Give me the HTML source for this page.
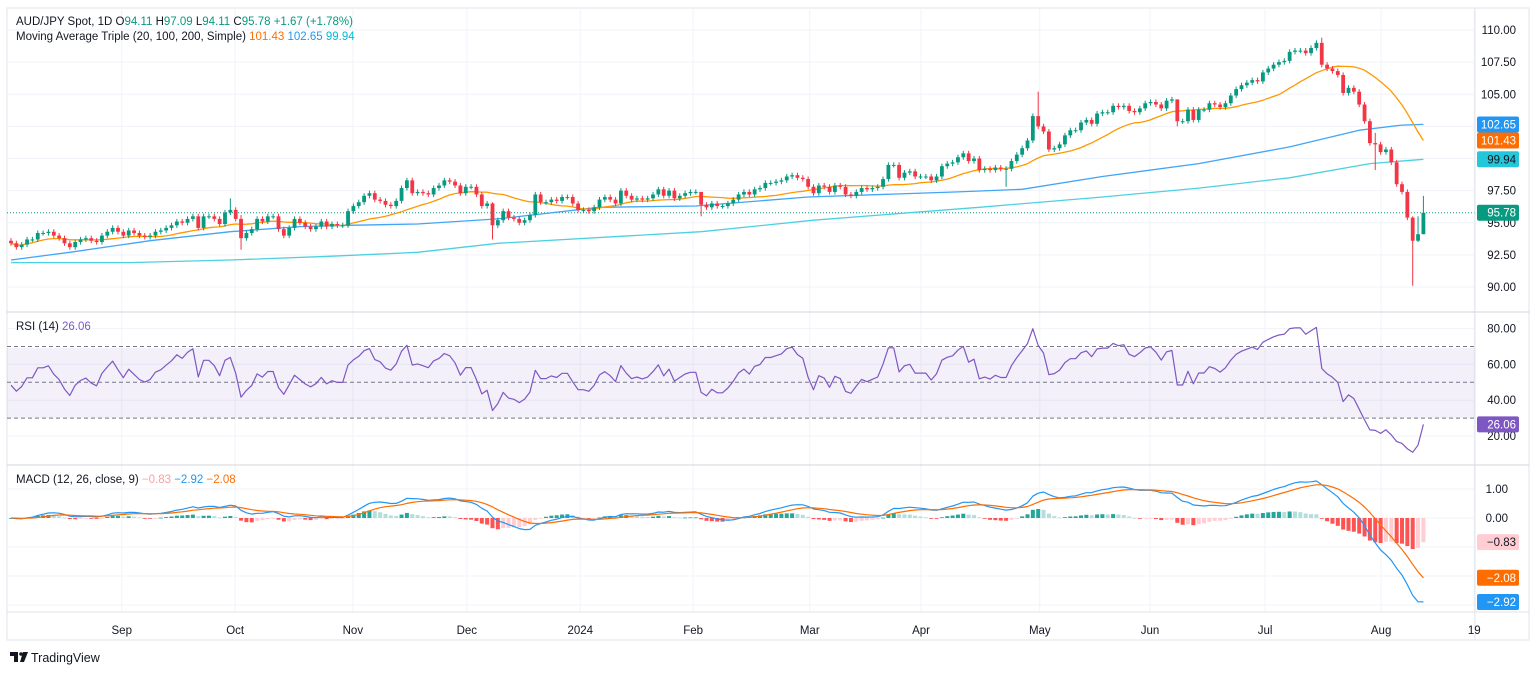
<!DOCTYPE html>
<html><head><meta charset="utf-8"><style>
html,body{margin:0;padding:0;background:#fff;width:1536px;height:673px;overflow:hidden;font-family:"Liberation Sans",sans-serif;}
svg text{font-family:"Liberation Sans",sans-serif;}
</style></head><body>
<svg id="chart" width="1536" height="673" viewBox="0 0 1536 673" xmlns="http://www.w3.org/2000/svg">
<rect x="7" y="8" width="1522" height="632" fill="#fff" stroke="#e0e3eb"/>
<g id="grid"></g>
<rect x="7" y="348" width="1468" height="70" fill="rgba(126,87,194,0.09)"/>
<g id="marks"></g>
<line x1="7" y1="312" x2="1529" y2="312" stroke="#d1d4dc"/>
<line x1="7" y1="465" x2="1529" y2="465" stroke="#d1d4dc"/>
<line x1="7" y1="612" x2="1529" y2="612" stroke="#e0e3eb"/>
<line x1="1475" y1="8" x2="1475" y2="640" stroke="#e0e3eb"/>
<g id="axes"></g>
<g font-size="11.5">
<text x="16" y="25" fill="#131722">AUD/JPY Spot, 1D <tspan fill="#131722"> O</tspan><tspan fill="#089981">94.11 </tspan><tspan> H</tspan><tspan fill="#089981">97.09 </tspan><tspan> L</tspan><tspan fill="#089981">94.11 </tspan><tspan> C</tspan><tspan fill="#089981">95.78 </tspan><tspan fill="#089981"> +1.67 (+1.78%)</tspan></text>
<text x="16" y="40" fill="#131722">Moving Average Triple (20, 100, 200, Simple) <tspan fill="#ff6d00"> 101.43</tspan><tspan fill="#2196f3"> 102.65</tspan><tspan fill="#00bcd4"> 99.94</tspan></text>
</g>
<text x="16" y="330" font-size="11.5" fill="#131722">RSI (14) <tspan fill="#7e57c2"> 26.06</tspan></text>
<text x="16" y="483" font-size="11.5" fill="#131722">MACD (12, 26, close, 9) <tspan fill="#f7a1a1"> −0.83</tspan><tspan fill="#2196f3"> −2.92</tspan><tspan fill="#ff6d00"> −2.08</tspan></text>
<g>
<path d="M10 652h8v10h-4v-6h-4z" fill="#131722"/>
<circle cx="21" cy="654" r="1.8" fill="#131722"/>
<path d="M23 652h5l-4 10h-4z" fill="#131722"/>
<text x="31" y="662" font-size="12.5" fill="#131722">TradingView</text>
</g>
</svg>
<script>
const closes = [
93.4,93.1,93.3,93.7,93.7,94.2,94.2,94.3,94.0,93.8,
93.4,93.1,93.5,93.7,93.8,93.6,93.5,94.0,94.3,94.6,
94.3,94.0,94.4,94.2,94.0,93.9,94.0,94.3,94.4,94.6,
94.8,95.1,95.0,95.3,95.5,94.6,95.5,95.5,95.3,94.9,
95.8,96.0,95.3,93.8,94.2,94.5,95.3,95.1,95.5,95.5,
94.5,94.0,94.6,95.3,95.0,94.7,94.5,94.7,95.1,94.7,
94.9,94.8,94.8,95.9,96.3,96.6,97.1,97.3,96.8,96.7,
96.4,96.3,96.7,97.7,98.3,97.3,97.4,97.3,97.2,97.7,
97.9,98.3,98.2,97.9,97.3,97.8,97.8,97.2,96.3,96.5,
94.8,95.2,
95.9,95.4,95.3,95.0,95.2,95.6,97.2,96.6,96.6,96.8,
96.7,97.0,97.0,96.5,96.0,96.0,95.9,96.2,96.8,97.0,
96.8,96.5,97.5,97.1,96.8,96.9,96.8,96.9,97.2,97.6,
97.1,97.5,96.9,97.1,97.3,97.4,97.4,96.4,96.2,96.5,
96.3,96.3,96.5,96.8,97.2,97.4,97.2,97.6,97.7,98.1,
98.1,98.2,98.3,98.6,98.7,98.5,98.4,97.8,97.3,97.9,
97.8,97.4,97.9,97.8,97.2,97.1,97.4,97.7,97.6,97.7,
97.8,98.4,99.5,99.5,98.5,98.9,99.0,98.6,98.6,98.6,
98.3,98.6,99.4,99.6,99.7,100.1,100.4,99.8,100.0,99.1,
99.2,99.1,99.3,99.2,99.2,99.8,100.3,100.8,101.4,103.3,
102.5,102.1,100.7,100.8,101.1,101.8,102.2,102.2,102.8,103.0,
102.7,103.5,103.6,103.6,104.1,104.0,104.1,103.7,103.6,103.9,
104.3,104.4,104.2,103.9,104.5,104.6,102.9,102.9,103.8,103.0,
103.8,103.8,104.3,104.2,104.0,104.3,104.9,105.4,105.7,105.9,
106.1,106.0,106.7,107.0,107.3,107.5,107.6,108.3,108.4,108.4,
108.2,108.6,109.0,107.3,107.0,106.8,106.5,105.1,105.5,105.2,
104.2,102.9,101.2,101.1,100.5,100.7,99.7,98.0,97.4,95.4,
93.6,94.11,95.78
];
const firstOpen = 93.6;
const wickBars  = [43, 41, 90, 129, 186, 192, 218, 245, 255, 262, 263, 264];
const wickHighs = [95.6, 96.9, 96.6, 96.7, 99.4, 105.2, 104.6, 109.4, 102.0, 95.5, 95.5, 97.09];
const wickLows  = [92.9, 95.6, 93.7, 95.5, 97.8, 102.3, 102.5, 107.1, 99.1, 90.1, 93.5, 94.11];
const ma100Bars = [0, 11, 26, 41, 54, 63, 76, 91, 110, 128, 149, 177, 189, 204, 222, 239, 252, 260, 264];
const ma100Vals = [92.1, 92.7, 93.6, 94.3, 94.7, 94.8, 94.9, 95.3, 96.2, 96.3, 97.0, 97.4, 97.6, 98.6, 99.6, 100.9, 102.2, 102.6, 102.65];
const ma200Bars = [0, 22, 41, 60, 76, 91, 129, 150, 181, 204, 222, 239, 254, 264];
const ma200Vals = [91.9, 91.9, 92.1, 92.4, 92.7, 93.4, 94.3, 95.2, 96.2, 97.0, 97.7, 98.5, 99.6, 99.94];
const monthLabels = ['Sep','Oct','Nov','Dec','2024','Feb','Mar','Apr','May','Jun','Jul','Aug','19'];
const monthBars = [20.7, 41.9, 63.9, 85.2, 106.4, 127.5, 149.3, 170.1, 192.3, 212.9, 234.4, 256.1, 273.5];
const priceTicks = [90, 92.5, 95, 97.5, 100, 102.5, 105, 107.5, 110];
const rsiTicks = [20, 40, 60, 80];
const rsiLevels = [70, 50, 30];
const macdTicks = [1, 0, -1, -2, -3];
const macdTickShown = [1, 0];

const NS = 'http://www.w3.org/2000/svg';
const X0 = 11, STEP = 5.35;
const xOf = i => X0 + i * STEP;
const yP = p => 30 + (110 - p) * 12.85;
const yR = v => 436 - (v - 20) * 1.79;
const yM = v => 518 - v * 29;
function mk(tag, attrs, parent) {
  const e = document.createElementNS(NS, tag);
  for (const k in attrs) e.setAttribute(k, attrs[k]);
  parent.appendChild(e);
  return e;
}
const grid = document.getElementById('grid');
const marks = document.getElementById('marks');
const axes = document.getElementById('axes');

monthBars.forEach((b, k) => {
  const l = mk('line', {x1: xOf(b), x2: xOf(b), y1: 8, y2: 612, stroke: '#f0f3fa'}, grid);
  
  
  const t = mk('text', {x: xOf(b), y: 634, 'font-size': 11.5, fill: '#131722', 'text-anchor': 'middle'}, axes);
  t.textContent = monthLabels[k];
  
  
});
priceTicks.forEach(p => {
  const l = mk('line', {x1: 7, x2: 1475, y1: yP(p), y2: yP(p), stroke: '#f0f3fa'}, grid);
  
  
  const t = mk('text', {x: 1516, y: yP(p) + 4, 'font-size': 11.5, fill: '#131722', 'text-anchor': 'end'}, axes);
  t.textContent = p.toFixed(2);
  
  
});
rsiTicks.forEach(v => {
  const l = mk('line', {x1: 7, x2: 1475, y1: yR(v), y2: yR(v), stroke: '#f0f3fa'}, grid);
  
  
  const t = mk('text', {x: 1516, y: yR(v) + 4, 'font-size': 11.5, fill: '#131722', 'text-anchor': 'end'}, axes);
  t.textContent = v.toFixed(2);
  
  
});
rsiLevels.forEach(v => {
  const l = mk('line', {x1: 7, x2: 1475, y1: yR(v), y2: yR(v), stroke: '#787b86', 'stroke-dasharray': '4 3'}, grid);
  
  
});
macdTicks.forEach(v => {
  const l = mk('line', {x1: 7, x2: 1475, y1: yM(v), y2: yM(v), stroke: '#f0f3fa'}, grid);
  
  
});
macdTickShown.forEach(v => {
  const t = mk('text', {x: 1508, y: yM(v) + 4, 'font-size': 11.5, fill: '#131722', 'text-anchor': 'end'}, axes);
  t.textContent = v.toFixed(2);
  
  
});

const last = closes[closes.length - 1];
const lp = mk('line', {x1: 7, x2: 1475, y1: yP(last), y2: yP(last), stroke: '#089981', 'stroke-dasharray': '1 2'}, marks);



function poly(pts, color, name, w) {
  const p = mk('polyline', {points: pts.map(q => q[0].toFixed(1) + ',' + q[1].toFixed(1)).join(' '), fill: 'none', stroke: color, 'stroke-width': w || 1.3, 'stroke-linejoin': 'round'}, marks);
  
  
  return p;
}
poly(ma200Bars.map((b, k) => [xOf(b), yP(ma200Vals[k])]), '#4dd0e1', 'ma200-line');
poly(ma100Bars.map((b, k) => [xOf(b), yP(ma100Vals[k])]), '#42a5f5', 'ma100-line');
const ma20 = closes.map((c, i) => {
  const s = closes.slice(Math.max(0, i - 19), i + 1);
  return s.reduce((a, b) => a + b, 0) / s.length;
});
poly(ma20.map((v, i) => [xOf(i), yP(v)]), '#ff9800', 'ma20-line');

closes.forEach((c, i) => {
  const o = i === 0 ? firstOpen : closes[i - 1];
  const k = wickBars.indexOf(i);
  const hi = k >= 0 ? wickHighs[k] : Math.max(o, c) + 0.2;
  const lo = k >= 0 ? wickLows[k] : Math.min(o, c) - 0.2;
  const col = c >= o ? '#089981' : '#f23645';
  const x = xOf(i);
  const w = mk('line', {x1: x, x2: x, y1: yP(hi), y2: yP(lo), stroke: col, 'stroke-width': 1}, marks);
  
  
  const top = yP(Math.max(o, c)), bot = yP(Math.min(o, c));
  const r = mk('rect', {x: x - 1.9, y: top, width: 3.8, height: Math.max(1, bot - top), fill: col}, marks);
  
  
});

// RSI (Wilder, seeded with neutral averages)
const rsi = [];
let ag = 0.15, al = 0.16;
closes.forEach((c, i) => {
  if (i > 0) {
    const d = c - closes[i - 1];
    ag = (ag * 13 + Math.max(d, 0)) / 14;
    al = (al * 13 + Math.max(-d, 0)) / 14;
  }
  rsi.push(al === 0 ? 100 : 100 - 100 / (1 + ag / al));
});
poly(rsi.map((v, i) => [xOf(i), yR(v)]), '#7e57c2', 'rsi-line', 1.2);

function ema(arr, n) {
  const a = 2 / (n + 1); let e = arr[0];
  return arr.map(v => (e = v * a + e * (1 - a)));
}
const e12 = ema(closes, 12), e26 = ema(closes, 26);
const macd = e12.map((v, i) => v - e26[i]);
const sig = ema(macd, 9);
const hist = macd.map((v, i) => v - sig[i]);
hist.forEach((h, i) => {
  const prev = i > 0 ? hist[i - 1] : 0;
  let col;
  if (h >= 0) col = h >= prev ? '#26a69a' : '#b2dfdb';
  else col = h < prev ? '#ff5252' : '#ffcdd2';
  const y0 = yM(0), y1 = yM(h);
  const r = mk('rect', {x: xOf(i) - 2, y: Math.min(y0, y1), width: 4, height: Math.max(0.8, Math.abs(y1 - y0)), fill: col}, marks);
  
  
});
poly(macd.map((v, i) => [xOf(i), yM(v)]), '#2196f3', 'macd-line', 1.2);
poly(sig.map((v, i) => [xOf(i), yM(v)]), '#ff6d00', 'signal-line', 1.2);

function badge(y, txt, bg, fg, name) {
  const g = mk('g', {}, axes);
  
  
  mk('rect', {x: 1477, y: y - 8, width: 42, height: 16, rx: 2, fill: bg}, g);
  const t = mk('text', {x: 1516, y: y + 4, 'font-size': 11.5, fill: fg, 'text-anchor': 'end'}, g);
  t.textContent = txt;
}
badge(yP(ma100Vals[ma100Vals.length - 1]), '102.65', '#2196f3', '#fff', 'ma100-price-badge');
badge(yP(ma20[ma20.length - 1]) < yP(ma100Vals[ma100Vals.length - 1]) + 16 ? yP(ma100Vals[ma100Vals.length - 1]) + 16 : yP(ma20[ma20.length - 1]), '101.43', '#ff6d00', '#fff', 'ma20-price-badge');
badge(yP(ma200Vals[ma200Vals.length - 1]), '99.94', '#26c6da', '#131722', 'ma200-price-badge');
badge(yP(last), last.toFixed(2), '#089981', '#fff', 'last-price-badge');
badge(Math.max(yR(rsi[rsi.length - 1]), 418), '26.06', '#7e57c2', '#fff', 'rsi-value-badge');
badge(yM(hist[hist.length - 1]), '−0.83', '#ffcdd2', '#131722', 'histogram-value-badge');
badge(yM(sig[sig.length - 1]), '−2.08', '#ff6d00', '#fff', 'signal-value-badge');
badge(Math.min(yM(macd[macd.length - 1]), 603), '−2.92', '#2196f3', '#fff', 'macd-value-badge');
</script>
</body></html>
